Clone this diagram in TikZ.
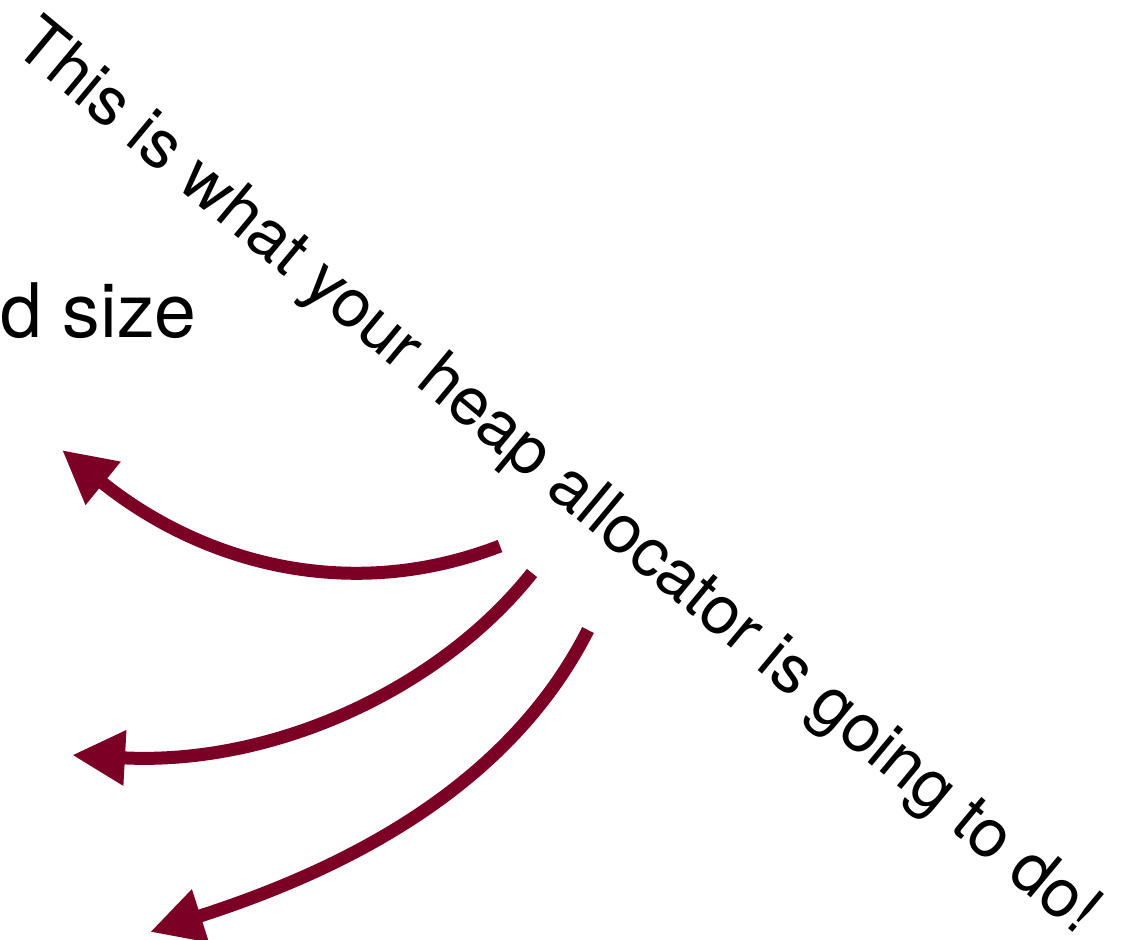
\documentclass[tikz,border=0pt]{standalone}
\usepackage{fontspec}
\setmainfont{TeX Gyre Heros}
\usepackage{xcolor}
\usetikzlibrary{positioning, arrows.meta}

\definecolor{heapred}{RGB}{124,0,38}

\begin{document}
\begin{tikzpicture}[
x=0.5pt, y=-0.5pt,
label_text/.style={inner sep=0pt, text=black},
heap_arrow/.style={-{Triangle[length=26.5pt, width=26pt]}, line width=6.5pt, draw=heapred}
]

\useasboundingbox (0,0) rectangle (1127,939);
\clip (0,0) rectangle (1127,939);

\node[label_text, anchor=base east, font=\fontsize{37.6}{44}\selectfont] (txt_size) at (197,337) {ed size};
\node[label_text, anchor=base west, rotate=-39.75, font=\fontsize{33.8}{40}\selectfont] (txt_allocator) at (11,49) {This is what your heap allocator is going to do!};

\coordinate (tail_a) at (500,546);
\coordinate (tip_a) at (62,450);
\coordinate (tail_b) at (532,573);
\coordinate (tip_b) at (72,755);
\coordinate (tail_c) at (588,630);
\coordinate (tip_c) at (150,932);

\draw[heap_arrow] (tail_a) .. controls (342,607) and (194,557) .. (tip_a);
\draw[heap_arrow] (tail_b) .. controls (439,690) and (272,766) .. (tip_b);
\draw[heap_arrow] (tail_c) .. controls (507,790) and (340,871) .. (tip_c);

\end{tikzpicture}
\end{document}
